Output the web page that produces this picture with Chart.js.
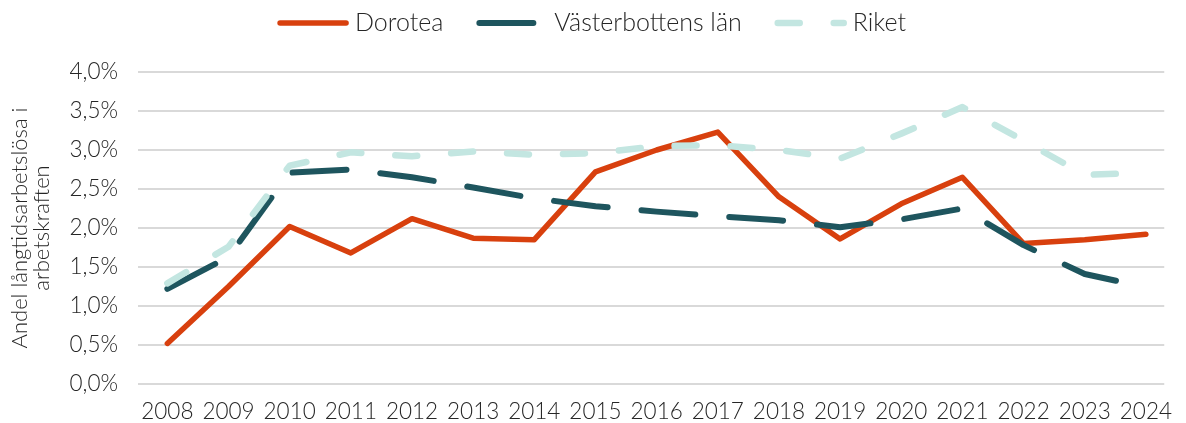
<!DOCTYPE html>
<html lang="sv">
<head>
<meta charset="utf-8">
<script src="https://cdn.jsdelivr.net/npm/chart.js@4/dist/chart.umd.min.js"></script>
<style>
  html, body { margin: 0; padding: 0; background: #fff; }
  #chart { display: block; }
</style>
</head>
<body>
<canvas id="chart" width="1186" height="423"></canvas>
<script>
// --- data (andel långtidsarbetslösa, procent) ---
const years = [2008, 2009, 2010, 2011, 2012, 2013, 2014, 2015, 2016, 2017, 2018, 2019, 2020, 2021, 2022, 2023, 2024];
const dorotea = [0.52, 1.25, 2.02, 1.68, 2.12, 1.87, 1.85, 2.72, 3.00, 3.23, 2.40, 1.86, 2.31, 2.65, 1.80, 1.85, 1.92];
const vasterbotten = [1.22, 1.63, 2.71, 2.75, 2.65, 2.52, 2.38, 2.28, 2.21, 2.15, 2.10, 2.01, 2.11, 2.25, 1.78, 1.41, 1.24];
const riket = [1.29, 1.76, 2.80, 2.97, 2.92, 2.98, 2.94, 2.96, 3.05, 3.06, 3.00, 2.89, 3.21, 3.55, 3.12, 2.68, 2.71];
const yTicks = [0, 0.5, 1, 1.5, 2, 2.5, 3, 3.5, 4];

const FONT = 'Lato, "Open Sans", sans-serif';
const TEXT = '#262626';

const toPoints = vals => vals.map((v, i) => ({ x: years[i], y: v }));
const pct = v => v.toFixed(1).replace('.', ',') + '%';

// legend drawn as short line samples, centred above the plot
const lineLegend = {
    id: 'lineLegend',
    afterDraw(chart, args, opts) {
        const { ctx } = chart;
        ctx.save();
        ctx.font = `${opts.weight} ${opts.size}px ${FONT}`;
        const items = chart.data.datasets.map(ds => ({ ds, w: ctx.measureText(ds.label).width }));
        const total = items.reduce((s, it) => s + opts.sample + opts.gap + it.w, 0) + opts.spacing * (items.length - 1);
        let x = (chart.width - total) / 2;
        items.forEach(({ ds, w }) => {
            ctx.beginPath();
            ctx.setLineDash(ds.borderDash || []);
            ctx.lineWidth = ds.borderWidth;
            ctx.lineCap = 'round';
            ctx.strokeStyle = ds.borderColor;
            ctx.moveTo(x, opts.y);
            ctx.lineTo(x + opts.sample, opts.y);
            ctx.stroke();
            ctx.setLineDash([]);
            ctx.fillStyle = TEXT;
            ctx.textBaseline = 'middle';
            ctx.textAlign = 'left';
            ctx.fillText(ds.label, x + opts.sample + opts.gap, opts.y);
            x += opts.sample + opts.gap + w + opts.spacing;
        });
        ctx.restore();
    }
};

const lineStyle = {
    pointRadius: 0,
    pointHoverRadius: 0,
    tension: 0,
    fill: false,
    borderCapStyle: 'round',
    borderJoinStyle: 'round'
};

new Chart(document.getElementById('chart'), {
    type: 'line',
    data: {
        datasets: [
            { ...lineStyle, label: 'Dorotea', data: toPoints(dorotea), borderColor: '#D8400E', borderWidth: 5.5, order: 3 },
            { ...lineStyle, label: 'Västerbottens län', data: toPoints(vasterbotten), borderColor: '#1E555E', borderWidth: 6, borderDash: [54, 34], order: 2 },
            { ...lineStyle, label: 'Riket', data: toPoints(riket), borderColor: '#C3E6E1', borderWidth: 6.5, borderDash: [22, 34], order: 1 }
        ]
    },
    plugins: [lineLegend],
    options: {
        responsive: false,
        animation: false,
        events: [],
        layout: { padding: { top: 72, right: 0, bottom: 0, left: 0 } },
        plugins: {
            legend: { display: false },
            tooltip: { enabled: false },
            lineLegend: { y: 23, size: 25, weight: 300, sample: 66, gap: 9, spacing: 36 }
        },
        scales: {
            x: {
                type: 'linear',
                min: 2007.52,
                max: 2024.30,
                grid: { display: false, drawTicks: false },
                border: { display: false },
                afterBuildTicks: axis => { axis.ticks = years.map(v => ({ value: v })); },
                afterFit: scale => { scale.height = 39; },
                ticks: {
                    autoSkip: false,
                    maxRotation: 0,
                    padding: 14,
                    color: TEXT,
                    font: { family: FONT, size: 22.5, weight: 300 },
                    callback: v => String(v)
                }
            },
            y: {
                min: 0,
                max: 4,
                grid: { color: '#D9D9D9', lineWidth: 2, drawTicks: false },
                border: { display: false },
                afterBuildTicks: axis => { axis.ticks = yTicks.map(v => ({ value: v })); },
                afterFit: scale => { scale.width = 138; },
                ticks: {
                    padding: 20,
                    color: TEXT,
                    font: { family: FONT, size: 22.5, weight: 300 },
                    callback: v => pct(v)
                },
                title: {
                    display: true,
                    text: ['Andel långtidsarbetslösa i', 'arbetskraften'],
                    color: TEXT,
                    font: { family: FONT, size: 22, weight: 300, lineHeight: 1.0 },
                    padding: { top: 9, bottom: 0 }
                }
            }
        }
    }
});
</script>
</body>
</html>
